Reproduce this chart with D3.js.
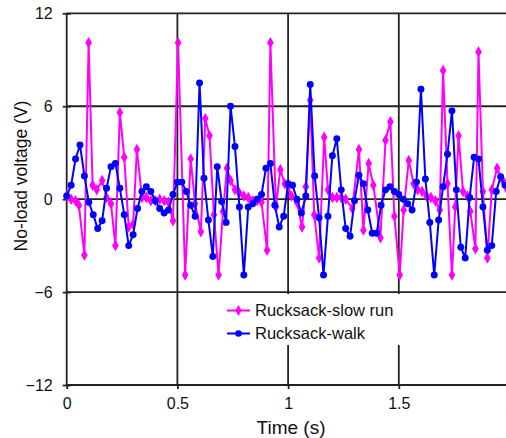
<!DOCTYPE html>
<html>
<head>
<meta charset="utf-8">
<script src="https://cdn.jsdelivr.net/npm/d3@7"></script>
<style>
    body { margin: 0; background: #fff; }
    svg { display: block; font-family: "Liberation Sans", Arial, sans-serif; }
</style>
</head>
<body>
<script>

    // tick labels
    var xTicks = [0, 0.5, 1, 1.5, 2];
    var yTicks = [-12, -6, 0, 6, 12];

    // Rucksack-slow run (pink)
    var runTime = [0, 0.02, 0.04, 0.055, 0.08, 0.099, 0.117, 0.136, 0.16, 0.18,
                   0.2, 0.22, 0.24, 0.26, 0.28, 0.3, 0.317, 0.34, 0.36, 0.38,
                   0.4, 0.42, 0.44, 0.46, 0.48, 0.503, 0.535, 0.56, 0.58, 0.606,
                   0.626, 0.645, 0.665, 0.686, 0.706, 0.724, 0.74, 0.76, 0.78, 0.8,
                   0.82, 0.84, 0.86, 0.88, 0.905, 0.92, 0.945, 0.965, 0.985, 1.0,
                   1.015, 1.04, 1.063, 1.08, 1.1, 1.118, 1.14, 1.163, 1.18, 1.2,
                   1.22, 1.24, 1.26, 1.29, 1.32, 1.34, 1.364, 1.385, 1.417, 1.44,
                   1.462, 1.48, 1.504, 1.522, 1.545, 1.567, 1.585, 1.605, 1.625, 1.645,
                   1.665, 1.685, 1.7, 1.72, 1.74, 1.755, 1.77, 1.79, 1.81, 1.823,
                   1.846, 1.86, 1.88, 1.9, 1.92, 1.944, 1.97, 1.99];
    var runVolt = [0.2, 0.0, -0.1, -0.4, -3.6, 10.1, 0.9, 0.6, 1.2, 0.1,
                   -0.3, -3.0, 5.6, 2.7, -1.8, -1.6, 3.2, 0.1, 0.1, -0.1,
                   -0.1, 0.0, -0.1, -0.2, -1.4, 10.1, -4.9, 2.6, -0.3, -2.1,
                   5.2, 4.1, -1.0, -4.9, -0.8, 2.0, 1.2, 0.6, 0.4, 0.2,
                   0.1, -0.1, -0.1, -0.2, -3.3, 10.1, -0.5, 1.9, 1.0, 0.8,
                   0.2, -0.2, -1.8, 0.8, 6.4, -1.0, -3.8, 4.0, 0.6, 0.1,
                   0.1, 0.1, 0.0, -0.6, 3.2, -2.0, 2.3, 0.9, -2.5, 3.8,
                   5.0, -1.1, -4.9, -0.7, 2.5, 1.0, 0.6, 0.5, 0.2, 0.1,
                   -0.1, -0.7, 8.3, 1.0, -4.9, -0.5, 4.1, 0.5, 0.2, -0.8,
                   -3.2, 9.5, 0.5, -3.8, 0.6, 2.0, 1.2, 0.6];

    // Rucksack-walk (blue)
    var walkTime = [0, 0.02, 0.04, 0.06, 0.08, 0.1, 0.12, 0.14, 0.16, 0.18,
                    0.2, 0.22, 0.24, 0.26, 0.28, 0.3, 0.32, 0.34, 0.36, 0.38,
                    0.4, 0.42, 0.44, 0.46, 0.48, 0.5, 0.52, 0.54, 0.56, 0.58,
                    0.6, 0.62, 0.64, 0.66, 0.68, 0.7, 0.72, 0.74, 0.76, 0.78,
                    0.8, 0.82, 0.84, 0.86, 0.88, 0.9, 0.92, 0.94, 0.96, 0.98,
                    1.0, 1.02, 1.04, 1.06, 1.08, 1.1, 1.12, 1.14, 1.16, 1.18,
                    1.2, 1.22, 1.24, 1.26, 1.28, 1.3, 1.32, 1.34, 1.36, 1.38,
                    1.4, 1.42, 1.44, 1.46, 1.48, 1.5, 1.52, 1.54, 1.56, 1.58,
                    1.6, 1.62, 1.64, 1.66, 1.68, 1.7, 1.72, 1.74, 1.76, 1.78,
                    1.8, 1.82, 1.84, 1.86, 1.88, 1.9, 1.92, 1.94, 1.96, 1.98,
                    2.0];
    var walkVolt = [0.2, 0.9, 2.6, 3.5, 1.5, -0.2, -1.0, -1.9, -1.4, 0.7,
                    2.1, 2.3, 0.7, -1.0, -3.0, -2.3, -0.6, 0.5, 0.8, 0.5,
                    -0.1, -0.6, -0.9, -0.7, 0.3, 1.1, 1.1, 0.5, -0.4, -1.1,
                    7.5, 1.35, -1.35, -3.7, 2.1, -0.15, -1.5, 6.0, 3.4, -0.5,
                    -4.9, -0.5, -0.3, 0.0, 0.3, 2.0, 2.3, -0.4, -1.8, -1.1,
                    1.0, 0.9, 0.0, -0.9, 0.2, 7.4, 1.5, -1.2, -4.9, -1.1,
                    2.8, 3.9, 0.6, -1.9, -2.4, -0.1, 1.55, 1.0, -0.7, -2.2,
                    -2.2, -0.4, 0.6, 0.8, 0.5, 0.3, 0.0, -0.3, -0.7, 1.1,
                    7.1, 1.3, -1.5, -4.9, -1.35, 0.8, 2.9, 5.7, 0.6, -3.1,
                    -3.8, 0.1, 2.7, 2.6, -0.5, -3.3, -3.0, 0.5, 1.45, 0.9,
                    1.2];

    var seriesNames = ["Rucksack-slow run", "Rucksack-walk"];
    var seriesColors = ["#ff00ff", "#0000ff"];

    const W = 506, H = 438;
    const plotLeft = 66.7, plotRight = 509.5, plotTop = 13.3, plotBottom = 385;
    const gridColor = "#222";

    var svg = d3.select("body")
                .append("svg")
                .attr("width", W)
                .attr("height", H);

    var x = d3.scaleLinear().domain([0, 2]).range([plotLeft, plotRight]);
    var y = d3.scaleLinear().domain([-12, 12]).range([plotBottom, plotTop]);

    // grid lines (every tick, including the frame)
    svg.append("g")
        .selectAll("line")
        .data(xTicks)
        .enter()
        .append("line")
        .attr("x1", d => x(d)).attr("x2", d => x(d))
        .attr("y1", plotTop).attr("y2", plotBottom)
        .attr("stroke", gridColor)
        .attr("stroke-width", 1.8);

    svg.append("g")
        .selectAll("line")
        .data(yTicks)
        .enter()
        .append("line")
        .attr("x1", plotLeft).attr("x2", plotRight)
        .attr("y1", d => y(d)).attr("y2", d => y(d))
        .attr("stroke", gridColor)
        .attr("stroke-width", 1.8);

    // axes: ticks cross the frame
    var yAxis = svg.append("g")
                    .attr("transform", "translate(" + plotLeft + ",0)")
                    .call(d3.axisLeft(y).tickValues(yTicks).tickSize(4).tickPadding(10).tickFormat(d3.format("d")));
    yAxis.selectAll(".tick line").attr("x2", -4).attr("x1", 4);

    var xAxis = svg.append("g")
                    .attr("transform", "translate(0," + plotBottom + ")")
                    .call(d3.axisBottom(x).tickValues(xTicks).tickSize(4).tickPadding(6).tickFormat(d => d));

    [yAxis, xAxis].forEach(function(a) {
        a.select(".domain").remove();
        a.selectAll(".tick line").attr("stroke", gridColor).attr("stroke-width", 1.8);
        a.selectAll(".tick text")
            .attr("fill", "#111")
            .style("font-size", "16px")
            .style("font-family", "'Liberation Sans', Arial, sans-serif");
    });
    xAxis.selectAll(".tick text").attr("dy", "0.9em");

    // axis titles
    svg.append("text")
        .attr("x", 291)
        .attr("y", 434)
        .attr("text-anchor", "middle")
        .attr("fill", "#111")
        .style("font-size", "19px")
        .text("Time (s)");

    svg.append("text")
        .attr("transform", "translate(27,176) rotate(-90)")
        .attr("text-anchor", "middle")
        .attr("fill", "#111")
        .style("font-size", "17.5px")
        .text("No-load voltage (V)");

    // series
    function drawSeries(times, volts, color, symbol, size) {
        var pts = times.map(function(t, i) { return [t, volts[i]]; });
        var line = d3.line()
                    .x(d => x(d[0]))
                    .y(d => y(d[1]));

        svg.append("path")
            .datum(pts)
            .attr("d", line)
            .attr("fill", "none")
            .attr("stroke", color)
            .attr("stroke-width", 2)
            .attr("stroke-linejoin", "round");

        svg.append("g")
            .selectAll("path")
            .data(pts)
            .enter()
            .append("path")
            .attr("transform", d => "translate(" + x(d[0]) + "," + y(d[1]) + ")")
            .attr("d", d3.symbol().type(symbol).size(size))
            .attr("fill", color);
    }

    drawSeries(runTime, runVolt, seriesColors[0], d3.symbolDiamond, 38);
    drawSeries(walkTime, walkVolt, seriesColors[1], d3.symbolCircle, 38);

    // legend, white box hides grid behind it
    var legend = svg.append("g");
    legend.append("rect")
        .attr("x", 220).attr("y", 294)
        .attr("width", 190).attr("height", 51)
        .attr("fill", "#fff");

    seriesNames.forEach(function(name, i) {
        var ly = 310.5 + i * 23;
        legend.append("line")
            .attr("x1", 227).attr("x2", 250)
            .attr("y1", ly).attr("y2", ly)
            .attr("stroke", seriesColors[i])
            .attr("stroke-width", 2);
        legend.append("path")
            .attr("transform", "translate(238.5," + ly + ")")
            .attr("d", d3.symbol().type(i == 0 ? d3.symbolDiamond : d3.symbolCircle).size(34))
            .attr("fill", seriesColors[i]);
        legend.append("text")
            .attr("x", 255)
            .attr("y", ly)
            .attr("dy", "0.35em")
            .attr("fill", "#111")
            .style("font-size", "16.5px")
            .text(name);
    });

</script>
</body>
</html>
